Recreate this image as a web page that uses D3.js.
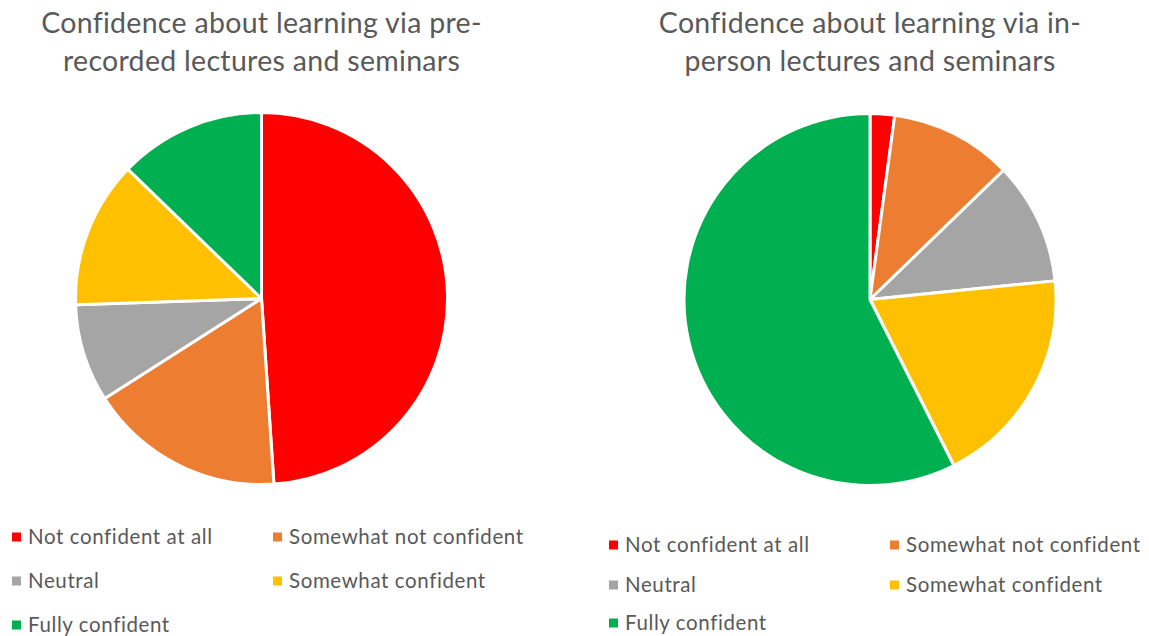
<!DOCTYPE html>
<html>
<head>
<meta charset="utf-8">
<script src="https://cdn.jsdelivr.net/npm/d3@7"></script>
<style>
  body { margin: 0; background: #fff; }
  text { font-family: Lato, "Open Sans", sans-serif; fill: #595959; }
</style>
</head>
<body>
<script>
// categories & counts
var categories = ["Not confident at all", "Somewhat not confident", "Neutral", "Somewhat confident", "Fully confident"];
var colours = ["#ff0000", "#ed7d31", "#a5a5a5", "#ffc000", "#00b050"];
var preRecorded = [23, 8, 4, 6, 6];
var inPerson = [1, 5, 5, 9, 27];

var width = 1149,
    height = 636;

var svg = d3.select("body").append("svg")
    .attr("width", width)
    .attr("height", height);

var color = d3.scaleOrdinal().domain(categories).range(colours);

var charts = [
  { title: ["Confidence about learning via pre-", "recorded lectures and seminars"], values: preRecorded,
    cx: 261.5, cy: 298.5, legendX: 12, legendY: [537, 581, 625], col2: 273 },
  { title: ["Confidence about learning via in-", "person lectures and seminars"], values: inPerson,
    cx: 870, cy: 299.5, legendX: 609, legendY: [545, 585, 623], col2: 890 }
];

var radius = 186;
var pie = d3.pie().sort(null);
var arc = d3.arc().innerRadius(0).outerRadius(radius);

charts.forEach(function(c) {
  var g = svg.append("g");

  // title (two lines)
  g.append("text")
      .attr("text-anchor", "middle")
      .attr("font-size", 28.5)
      .attr("letter-spacing", 0.3)
      .selectAll("tspan")
      .data(c.title)
      .enter().append("tspan")
      .attr("x", c.cx)
      .attr("y", function(d, i) { return 33 + i * 38; })
      .text(function(d) { return d; });

  // slices
  var data = c.values.map(function(v, i) { return { cat: categories[i], value: v }; });
  g.append("g")
      .attr("transform", "translate(" + c.cx + "," + c.cy + ")")
      .selectAll("path")
      .data(pie.value(function(d) { return d.value; })(data))
      .enter().append("path")
      .attr("d", arc)
      .attr("fill", function(d) { return color(d.data.cat); })
      .attr("stroke", "#fff")
      .attr("stroke-width", 3)
      .attr("stroke-linejoin", "round");

  // legend: two columns, three rows
  var item = g.append("g").selectAll("g")
      .data(categories)
      .enter().append("g")
      .attr("transform", function(d, i) {
        var x = (i % 2 === 0) ? c.legendX : c.col2;
        var y = c.legendY[Math.floor(i / 2)];
        return "translate(" + x + "," + y + ")";
      });

  item.append("rect")
      .attr("x", 0)
      .attr("y", -4.5)
      .attr("width", 9)
      .attr("height", 9)
      .attr("fill", function(d) { return color(d); });

  item.append("text")
      .attr("x", 16)
      .attr("dy", "0.35em")
      .attr("font-size", 20.5)
      .attr("letter-spacing", 0.6)
      .text(function(d) { return d; });
});
</script>
</body>
</html>
